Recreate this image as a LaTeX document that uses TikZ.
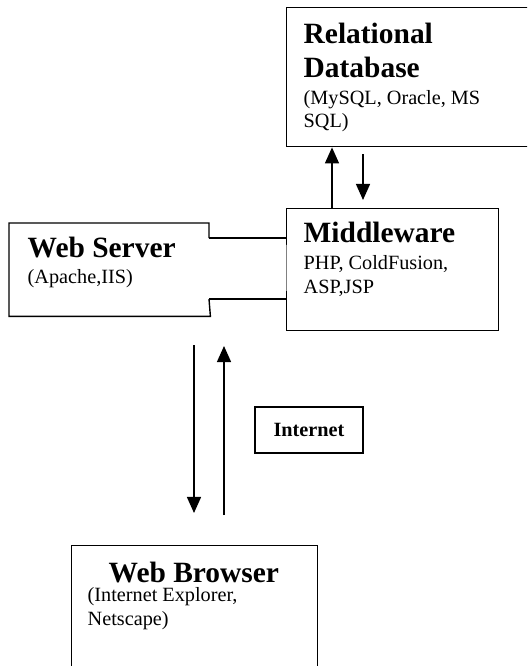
\documentclass[tikz,border=0pt]{standalone}
\usepackage{fontspec}
\setmainfont{Liberation Serif}
\usetikzlibrary{arrows.meta,positioning}
\newdimen\px
\px=0.5435pt

\begin{document}
\begin{tikzpicture}[x=0.5435pt, y=-0.5435pt, line width=1.4\px,
    box/.style={draw, rectangle, anchor=north west, inner sep=0pt},
    title/.style={anchor=base west, inner sep=0pt, align=left, font=\bfseries\fontsize{16}{19}\selectfont},
    detail/.style={anchor=base west, inner sep=0pt, align=left, font=\fontsize{11}{12.6}\selectfont},
    arr/.style={-{Triangle[width=7.6pt, length=8.7pt]}}]
        \useasboundingbox (0,0) rectangle (527,666);
        \clip (0,0) rectangle (527,666);
        % Boxes
        \node[box, minimum width=260\px, minimum height=139\px] (rdb) at (286,7) {};
        \node[box, minimum width=212\px, minimum height=122\px] (mw) at (286,208) {};
        \node[anchor=north west, inner sep=0pt, minimum width=200\px, minimum height=92\px] (ws) at (9,223) {};
        \node[box, minimum width=246\px, minimum height=140\px] (wb) at (71,545) {};
        \node[draw, rectangle, minimum width=108\px, minimum height=46\px, font=\bfseries\fontsize{11}{13}\selectfont] (net) at (309,430) {Internet};

        % Texts (base = last line)
        \node[title] (rdbtitle) at (303,78) {Relational\\Database};
        \node[detail] (rdbinfo) at (303,128) {(MySQL, Oracle, MS\\SQL)};
        \node[title] (mwtitle) at (303,242) {Middleware};
        \node[detail] (mwinfo) at (303,293) {PHP, ColdFusion,\\ASP,JSP};
        \node[title] (wstitle) at (27,257) {Web Server};
        \node[detail] (wsinfo) at (27,283) {(Apache,IIS)};
        \node[title] (wbtitle) at (108,582) {Web Browser};
        \node[detail] (wbinfo) at (87,625) {(Internet Explorer,\\Netscape)};

        % Web server outline, open towards the middleware
        \coordinate (wsup) at (209,238);
        \coordinate (wslo) at (209,299);
        \draw (wsup) |- (ws.north west) |- (ws.south east) -- (wslo);
        \draw (wsup) -- (wsup -| mw.west);
        \draw (wslo) -- (wslo -| mw.west);
        % thinner stretch of the middleware edge between the joins
        \draw[white] ([yshift=25\px]mw.west) -- ([yshift=-21\px]mw.west);
        \draw[gray, line width=0.7\px] ([yshift=25\px]mw.west) -- ([yshift=-21\px]mw.west);

        % Database arrows
        \coordinate (dbup) at (332,0);
        \coordinate (dbdna) at (363,154);
        \coordinate (dbdnb) at (363,200);
        \draw[arr] (dbup |- mw.north) -- (dbup |- rdb.south);
        \draw[arr] (dbdna) -- (dbdnb);

        % Internet arrows
        \coordinate (reqa) at (194,345);
        \coordinate (reqb) at (194,513);
        \coordinate (resa) at (224,515);
        \coordinate (resb) at (224,346);
        \draw[arr] (reqa) -- (reqb);
        \draw[arr] (resa) -- (resb);
    \end{tikzpicture}
\end{document}
